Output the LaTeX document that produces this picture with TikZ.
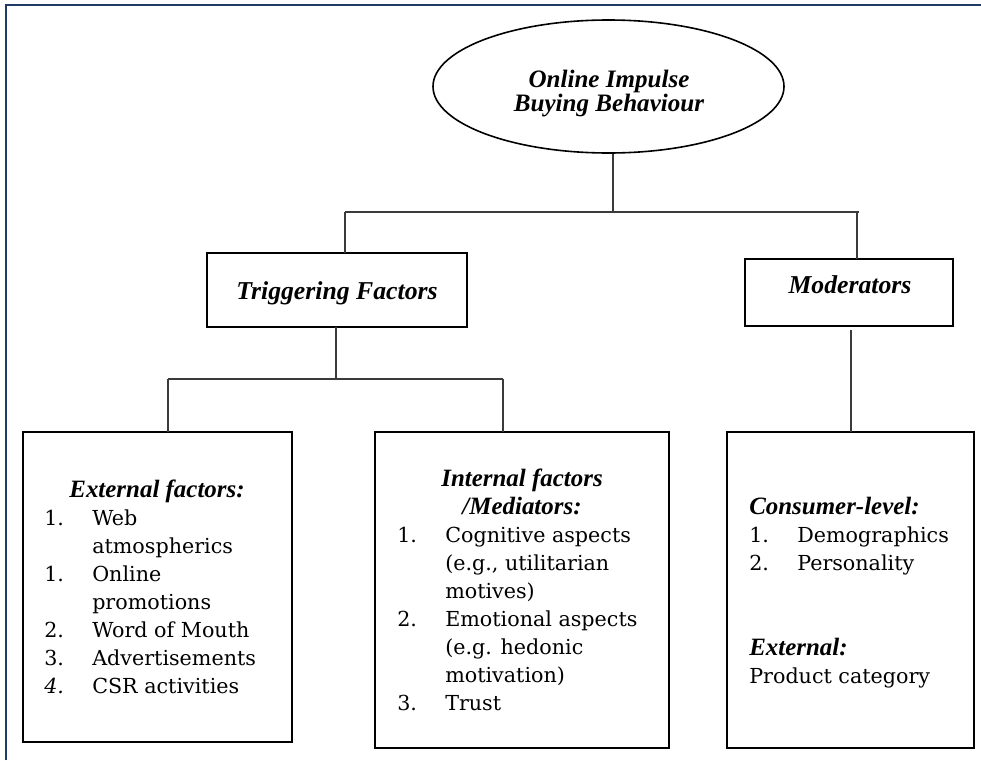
\documentclass[tikz,border=0pt]{standalone}
\usepackage{fontspec}
\setmainfont{DejaVu Serif}
\newfontfamily\headfont{Liberation Serif}
\usetikzlibrary{shapes.geometric}
\definecolor{framenavy}{HTML}{1F3A64}
\definecolor{linkgray}{HTML}{3A3A3A}
\tikzset{
  boxnode/.style={draw=black, line width=1.5pt, inner sep=0pt, outer sep=0pt, fill=white},
  link/.style={draw=linkgray, line width=0.9pt},
  bodytxt/.style={inner sep=0pt, font=\fontsize{15.5pt}{21pt}\selectfont},
  headtxt/.style={inner sep=0pt, font=\headfont\fontsize{18.7pt}{21pt}\selectfont\bfseries\itshape},
  titletxt/.style={inner sep=0pt, font=\headfont\fontsize{19.3pt}{21pt}\selectfont\bfseries\itshape},
  elltxt/.style={inner sep=0pt, font=\headfont\fontsize{18.8pt}{21pt}\selectfont\bfseries\itshape},
}
\begin{document}
\begin{tikzpicture}[x=0.75pt,y=-0.75pt]
\useasboundingbox (0,0) rectangle (981,760);
\fill[white] (0,0) rectangle (981,760);
% frame
\draw[framenavy, line width=1.6pt] (6,760) -- (6,5) -- (981,5);

% top ellipse
\node[ellipse, draw=black, line width=1.2pt, inner sep=0pt, minimum width=263.25pt, minimum height=99.75pt] (ell) at (608.5,86.5) {};
\node[elltxt, anchor=base] (ellA) at (609,87) {Online Impulse};
\node[elltxt, anchor=base] (ellB) at (609,111) {Buying Behaviour};

% second level
\node[boxnode, minimum width=195pt, minimum height=55.5pt] (trig) at (337,290) {};
\node[titletxt, anchor=base] (trigT) at (337,299) {Triggering Factors};
\node[boxnode, minimum width=156pt, minimum height=50.25pt] (mod) at (849,292.5) {};
\node[titletxt, anchor=base] (modT) at (850,293) {Moderators};

% third level boxes
\node[boxnode, minimum width=201.75pt, minimum height=232.5pt] (ext) at (157.5,587) {};
\node[boxnode, minimum width=220.5pt, minimum height=237pt] (int) at (522,590) {};
\node[boxnode, minimum width=185.25pt, minimum height=237pt] (cons) at (850.5,590) {};

% connectors
\coordinate (busAc) at (613,212);
\coordinate (busAl) at (345,212);
\coordinate (busAr) at (859,212);
\coordinate (busAm) at (857,212);
\draw[link] (busAc |- ell.south) -- (busAc);
\draw[link] (busAl) -- (busAr);
\draw[link] (busAl) -- (busAl |- trig.north);
\draw[link] (busAm) -- (busAm |- mod.north);
\coordinate (busBc) at (336,379);
\coordinate (busBl) at (168,379);
\coordinate (busBr) at (503,379);
\draw[link] (busBc |- trig.south) -- (busBc);
\draw[link] (busBl) -- (busBr);
\draw[link] (busBl) -- (busBl |- ext.north);
\draw[link] (busBr) -- (busBr |- int.north);
\coordinate (modgap) at (851,330);
\draw[link] (modgap) -- (modgap |- cons.north);

% external factors text
\node[headtxt, anchor=base] (e0) at (157,497) {External factors:};
\node[bodytxt, anchor=base west] (e1n) at (44,525) {1.};
\node[bodytxt, anchor=base west] (e1) at (92,525) {Web};
\node[bodytxt, anchor=base west] (e1b) at (92,553) {atmospherics};
\node[bodytxt, anchor=base west] (e2n) at (44,581) {1.};
\node[bodytxt, anchor=base west] (e2) at (92,581) {Online};
\node[bodytxt, anchor=base west] (e2b) at (92,609) {promotions};
\node[bodytxt, anchor=base west] (e3n) at (44,637) {2.};
\node[bodytxt, anchor=base west] (e3) at (92,637) {Word of Mouth};
\node[bodytxt, anchor=base west] (e4n) at (44,665) {3.};
\node[bodytxt, anchor=base west] (e4) at (92,665) {Advertisements};
\node[bodytxt, anchor=base west] (e5n) at (44,693) {\itshape 4.};
\node[bodytxt, anchor=base west] (e5) at (92,693) {CSR activities};

% internal factors text
\node[headtxt, anchor=base] (i0) at (522,486) {Internal factors};
\node[headtxt, anchor=base] (i0b) at (522,514) {/Mediators:};
\node[bodytxt, anchor=base west] (i1n) at (397,542) {1.};
\node[bodytxt, anchor=base west] (i1) at (445,542) {Cognitive aspects};
\node[bodytxt, anchor=base west] (i1b) at (445,570) {(e.g., utilitarian};
\node[bodytxt, anchor=base west] (i1c) at (445,598) {motives)};
\node[bodytxt, anchor=base west] (i2n) at (397,626) {2.};
\node[bodytxt, anchor=base west] (i2) at (445,626) {Emotional aspects};
\node[bodytxt, anchor=base west] (i2b) at (445,654) {(e.g. hedonic};
\node[bodytxt, anchor=base west] (i2c) at (445,682) {motivation)};
\node[bodytxt, anchor=base west] (i3n) at (397,710) {3.};
\node[bodytxt, anchor=base west] (i3) at (445,710) {Trust};

% moderators text
\node[headtxt, anchor=base west] (c0) at (749,514) {Consumer-level:};
\node[bodytxt, anchor=base west] (c1n) at (749,542) {1.};
\node[bodytxt, anchor=base west] (c1) at (797,542) {Demographics};
\node[bodytxt, anchor=base west] (c2n) at (749,570) {2.};
\node[bodytxt, anchor=base west] (c2) at (797,570) {Personality};
\node[headtxt, anchor=base west] (c3) at (749,655) {External:};
\node[bodytxt, anchor=base west] (c4) at (749,683) {Product category};
\end{tikzpicture}
\end{document}
